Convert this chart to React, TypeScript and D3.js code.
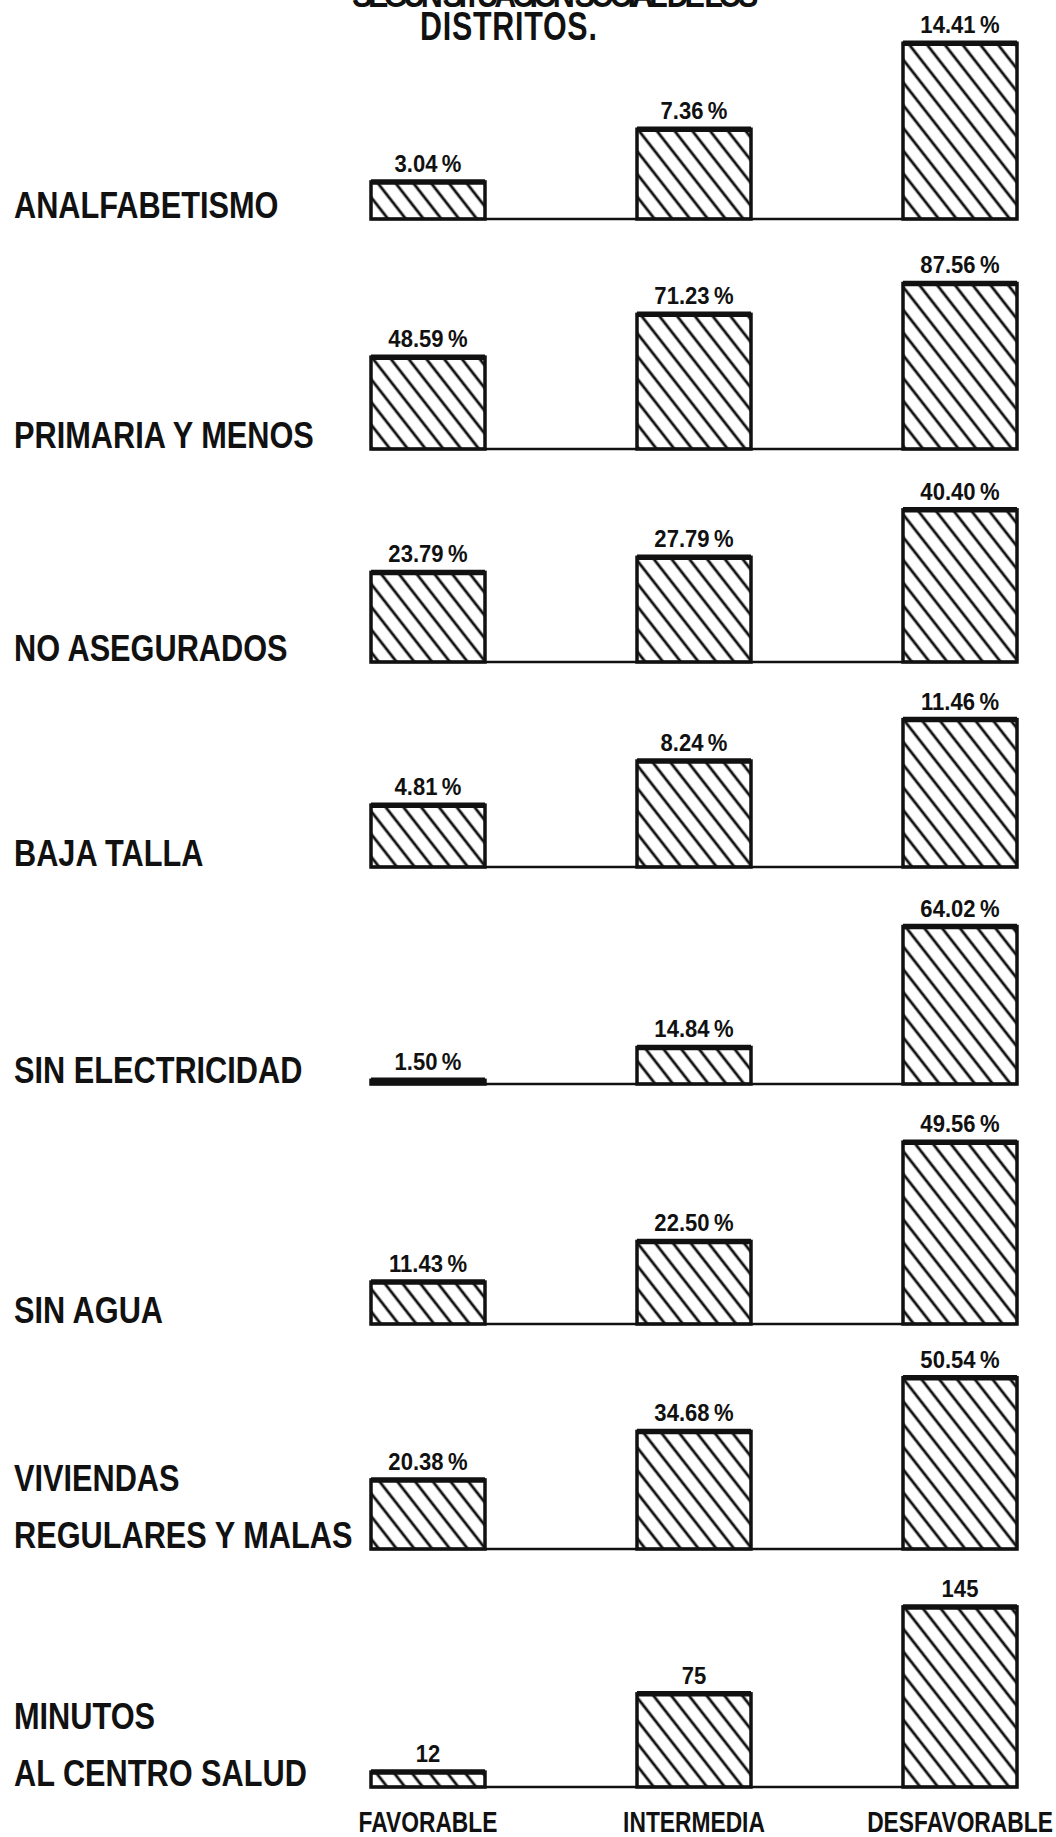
import React from "react";
import * as d3 from "d3";

const width = 1056;
const height = 1837;

// datos
const categories = ["FAVORABLE", "INTERMEDIA", "DESFAVORABLE"];
const rowLabels = [
  ["ANALFABETISMO"],
  ["PRIMARIA Y MENOS"],
  ["NO ASEGURADOS"],
  ["BAJA TALLA"],
  ["SIN ELECTRICIDAD"],
  ["SIN  AGUA"],
  ["VIVIENDAS", "REGULARES Y MALAS"],
  ["MINUTOS", "AL CENTRO SALUD"],
];
const analfabetismo = [3.04, 7.36, 14.41];
const primariaYMenos = [48.59, 71.23, 87.56];
const noAsegurados = [23.79, 27.79, 40.4];
const bajaTalla = [4.81, 8.24, 11.46];
const sinElectricidad = [1.5, 14.84, 64.02];
const sinAgua = [11.43, 22.5, 49.56];
const viviendas = [20.38, 34.68, 50.54];
const minutos = [12, 75, 145];
const rows = [analfabetismo, primariaYMenos, noAsegurados, bajaTalla, sinElectricidad, sinAgua, viviendas, minutos];
const units = ["%", "%", "%", "%", "%", "%", "%", ""];
// each panel was drawn with its own vertical scale
const scaleMax = [16.4, 105.8, 53.1, 15.55, 81.3, 54.5, 59, 161];

// layout
const rowBase = [219, 449, 662, 867, 1084, 1324, 1549, 1787];
const barH = 200;
const barW = 114;
const font = "'Liberation Sans', Arial, sans-serif";
const ink = "#111";

const x = d3.scalePoint<string>().domain(categories).range([428, 960]);

const fmt = (v: number, u: string) => (u ? `${d3.format(".2f")(v)}\u2009${u}` : `${v}`);

// condensed bold text (no narrow face installed, so squeeze it)
const Txt = ({ x, y, size, sx = 0.82, anchor = "start", children, ...rest }: any) => (
  <text
    transform={`translate(${x},${y}) scale(${sx},1)`}
    textAnchor={anchor}
    fontFamily={font}
    fontWeight="bold"
    fontSize={size}
    fill={ink}
    {...rest}
  >
    {children}
  </text>
);

const Row = ({ values, i }: { values: number[]; i: number }) => {
  const base = rowBase[i];
  const y = d3.scaleLinear().domain([0, scaleMax[i]]).range([base, base - barH]);
  const labels = rowLabels[i];
  return (
    <g>
      <line
        x1={x(categories[0])! - barW / 2}
        x2={x(categories[2])! + barW / 2}
        y1={base}
        y2={base}
        stroke={ink}
        strokeWidth={2.5}
      />
      {values.map((v, j) => {
        const cx = x(categories[j])!;
        const top = y(v);
        return (
          <g key={j}>
            <rect
              x={cx - barW / 2}
              y={top}
              width={barW}
              height={base - top}
              fill="url(#hatch)"
              stroke={ink}
              strokeWidth={3.5}
            />
            <line x1={cx - barW / 2} x2={cx + barW / 2} y1={top} y2={top} stroke={ink} strokeWidth={5.5} />
            <Txt x={cx} y={top - 10} size={24} sx={0.92} anchor="middle">
              {fmt(v, units[i])}
            </Txt>
          </g>
        );
      })}
      {labels.map((l, k) => (
        <Txt key={k} x={14} y={base - 1 - (labels.length - 1 - k) * 57} size={37} sx={0.83}>
          {l}
        </Txt>
      ))}
    </g>
  );
};

export default function App() {
  return (
    <svg
      width={width}
      height={height}
      style={{ position: "absolute", left: 0, top: 0, background: "#fff" }}
    >
      <defs>
        <pattern id="hatch" patternUnits="userSpaceOnUse" width={14} height={14} patternTransform="rotate(-38)">
          <line x1={3} y1={0} x2={3} y2={14} stroke={ink} strokeWidth={2.8} />
        </pattern>
      </defs>
      <rect width={width} height={height} fill="#fff" />
      <Txt x={352} y={7} size={36} sx={0.85} textLength={478}>
        SEGUN SITUACION SOCIAL DE LOS
      </Txt>
      <Txt x={420} y={40} size={40} sx={0.76} letterSpacing={1}>
        DISTRITOS.
      </Txt>
      {rows.map((r, i) => (
        <Row key={i} values={r} i={i} />
      ))}
      {categories.map((c) => (
        <Txt key={c} x={x(c)} y={1832} size={30} sx={0.76} anchor="middle">
          {c}
        </Txt>
      ))}
    </svg>
  );
}
